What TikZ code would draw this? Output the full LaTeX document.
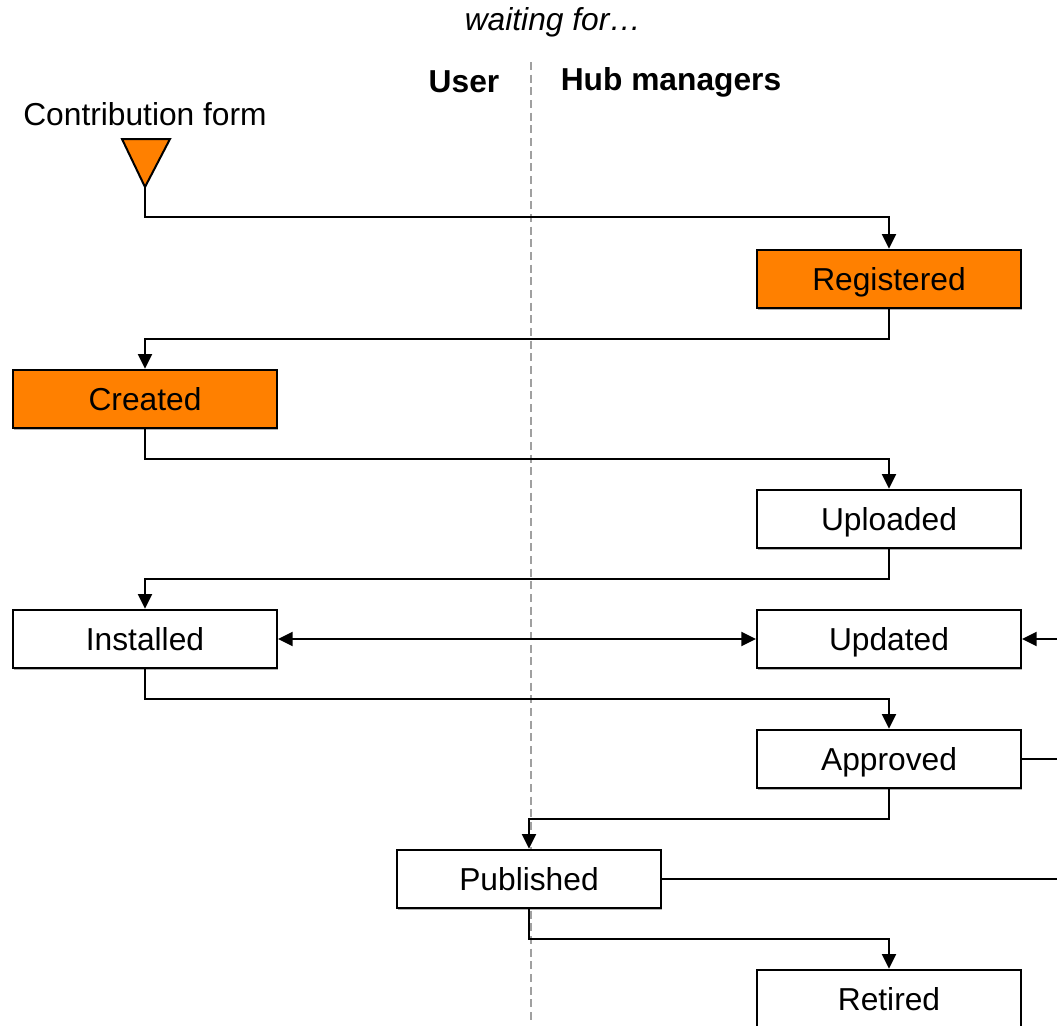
\documentclass[tikz,border=0pt]{standalone}
\usepackage{fontspec}
\setmainfont{Liberation Sans}
\usetikzlibrary{arrows.meta,shadows}
\definecolor{formorange}{RGB}{255,128,0}
\definecolor{lanegray}{RGB}{160,160,160}
\tikzset{
  state/.style={draw, line width=1.5pt, minimum width=198pt, minimum height=44pt, inner sep=0pt,
    text height=17pt, text depth=0pt,
    drop shadow={shadow xshift=0.9pt, shadow yshift=-0.9pt, fill=gray!60, opacity=1}},
  flow/.style={line width=1.5pt, -{Triangle[length=11pt,width=10.5pt]}},
  plain/.style={line width=1.5pt}
}
\begin{document}
\begin{tikzpicture}[x=0.75pt, y=-0.75pt, font=\fontsize{23.8}{28}\selectfont]

\clip (0,0) rectangle (1057,1025);
\coordinate (edge) at (1070,0);

% lane divider
\draw[lanegray, line width=1.4pt, dash pattern=on 6pt off 3.5pt] (531,62) -- (531,1022);

\node (waiting) at (553,22) {\itshape waiting for\ldots};
\node (user) at (464,82) {\bfseries User};
\node (hub) at (671,82) {\bfseries Hub managers};
\node (formlabel) at (145,114) {Contribution form};

% contribution form
\draw[plain, fill=formorange, line join=miter] (122,139) -- (170,139) -- (145,187) -- cycle;
\coordinate (form) at (145,187);

\node[state, fill=formorange] (reg) at (889,279) {Registered};
\node[state, fill=formorange] (cre) at (145,399) {Created};
\node[state, fill=white] (upl) at (889,519) {Uploaded};
\node[state, fill=white] (ins) at (145,639) {Installed};
\node[state, fill=white] (upd) at (889,639) {Updated};
\node[state, fill=white] (app) at (889,759) {Approved};
\node[state, fill=white] (pub) at (529,879) {Published};
\node[state, fill=white] (ret) at (889,999) {Retired};

\draw[flow] (form) -- ++(0,30) -| (reg.north);
\draw[flow] (reg.south) -- ++(0,30) -| (cre.north);
\draw[flow] (cre.south) -- ++(0,30) -| (upl.north);
\draw[flow] (upl.south) -- ++(0,30) -| (ins.north);
\draw[flow, {Triangle[length=11pt,width=10.5pt]}-{Triangle[length=11pt,width=10.5pt]}] (ins.east) -- (upd.west);
\draw[flow] (upd.east -| edge) -- (upd.east);
\draw[flow] (ins.south) -- ++(0,30) -| (app.north);
\draw[plain] (app.east) -- (app.east -| edge);
\draw[flow] (app.south) -- ++(0,30) -| (pub.north);
\draw[plain] (pub.east) -- (pub.east -| edge);
\draw[flow] (pub.south) -- ++(0,30) -| (ret.north);

\end{tikzpicture}
\end{document}
